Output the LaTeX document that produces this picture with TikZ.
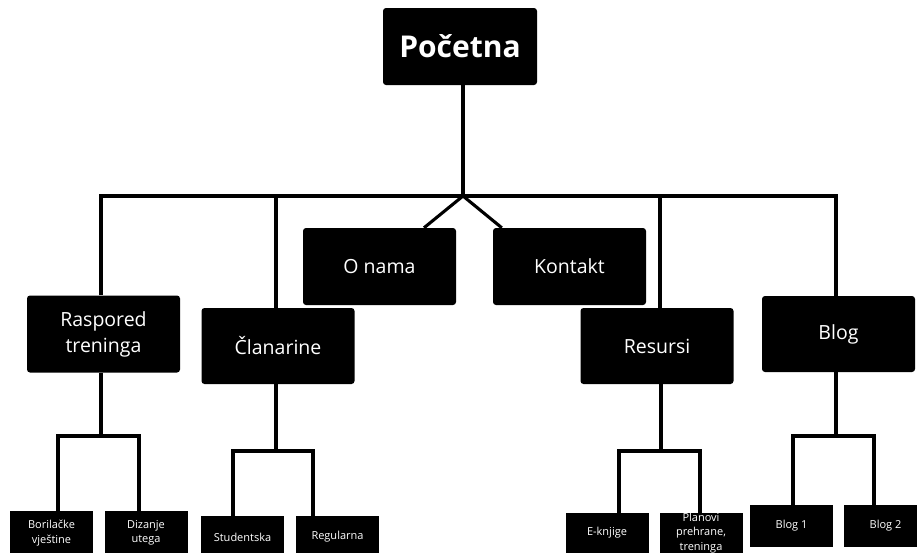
\documentclass[tikz,border=0pt]{standalone}
\usepackage{fontspec}
\setmainfont{Open Sans}
\tikzset{
  conn/.style={line width=3.1pt},
  rootbox/.style={fill=black, text=white, rounded corners=3pt, minimum width=154pt, minimum height=77pt, inner sep=0pt, font=\fontsize{30}{36}\selectfont\bfseries},
  topbox/.style={fill=black, text=white, rounded corners=3pt, minimum width=153pt, minimum height=77pt, inner sep=0pt, align=center, font=\fontsize{19.5}{26}\selectfont},
  leafbox/.style={fill=black, text=white, minimum width=83pt, minimum height=42pt, inner sep=0pt, align=center, font=\fontsize{11}{14.5}\selectfont},
}
\begin{document}
\begin{tikzpicture}[x=1pt,y=-1pt]
\useasboundingbox (0,0) rectangle (917,552);
\clip (0,0) rectangle (917,552);
\fill[white] (0,0) rectangle (917,552);

% nodes
\node[rootbox] (pocetna) at (460,46.5) {Početna};
\node[topbox] (onama) at (379.5,266.5) {O nama};
\node[topbox] (kontakt) at (569.5,266.5) {Kontakt};
\node[topbox] (raspored) at (103.5,334) {Raspored\\treninga};
\node[topbox, minimum height=76pt] (clanarine) at (278,346) {Članarine};
\node[topbox, minimum height=76pt] (resursi) at (657,346) {Resursi};
\node[topbox, minimum height=76pt] (blog) at (838.5,334) {Blog};

\node[leafbox, minimum height=44pt] (bor) at (51.5,533) {Borilačke\\vještine};
\node[leafbox, minimum height=44pt] (diz) at (146,533) {Dizanje\\utega};
\node[leafbox] (stud) at (242.5,537) {Studentska};
\node[leafbox] (reg) at (337.5,537) {Regularna};
\node[leafbox, minimum height=40pt] (ekn) at (607,533) {E-knjige};
\node[leafbox, minimum height=40pt] (plan) at (701,533) {Planovi\\prehrane,\\treninga};
\node[leafbox] (b1) at (791.5,526) {Blog 1};
\node[leafbox] (b2) at (885.5,526) {Blog 2};

% coordinates
\coordinate (hub) at (463,196);
\coordinate (j1) at (101,436);
\coordinate (j2) at (276,451);
\coordinate (j3) at (661,451);
\coordinate (j4) at (836,436);
\coordinate (rN) at ([xshift=-2.5pt]raspored.north);
\coordinate (bN) at ([xshift=-2.5pt]blog.north);
\coordinate (cN) at ([xshift=-2pt]clanarine.north);
\coordinate (sN) at ([xshift=3pt]resursi.north);

% top connectors
\draw[conn] (pocetna.south -| hub) -- (hub);
\draw[conn] (rN) |- (hub) -| (bN);
\draw[conn] (cN) -- (cN |- hub);
\draw[conn] (sN) -- (sN |- hub);
\draw[conn] (hub) -- ([xshift=44.5pt]onama.north);
\draw[conn] (hub) -- ([xshift=9pt]kontakt.north west);

% lower connectors
\draw[conn] (raspored.south -| j1) -- (j1);
\draw[conn] ([xshift=6.5pt]bor.north) |- (j1) -| ([xshift=-7pt]diz.north);
\draw[conn] (clanarine.south -| j2) -- (j2);
\draw[conn] ([xshift=-9.5pt]stud.north) |- (j2) -| ([xshift=-24.5pt]reg.north);
\draw[conn] (resursi.south -| j3) -- (j3);
\draw[conn] ([xshift=12pt]ekn.north) |- (j3) -| ([xshift=-1pt]plan.north);
\draw[conn] (blog.south -| j4) -- (j4);
\draw[conn] ([xshift=1.5pt]b1.north) |- (j4) -| ([xshift=-11.5pt]b2.north);
\end{tikzpicture}
\end{document}
